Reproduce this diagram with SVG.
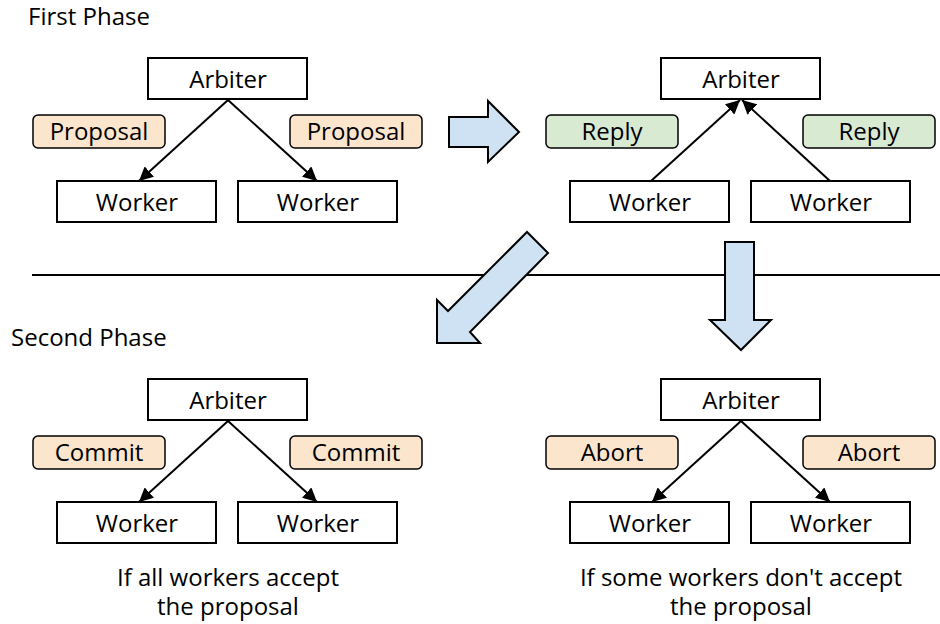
<svg xmlns="http://www.w3.org/2000/svg" width="940" height="624" viewBox="0 0 940 624">
<defs>
<marker id="ah" viewBox="0 0 10 10" refX="10" refY="5" markerWidth="7" markerHeight="7" markerUnits="strokeWidth" orient="auto">
<path d="M0,0 L10,5 L0,10 Z" fill="#000"/>
</marker>
<style>
text{font-family:"Open Sans","Noto Sans",sans-serif;font-size:24px;fill:#000;}
.box{fill:#fff;stroke:#000;stroke-width:2;}
.lab{stroke:#000;stroke-width:1.5;}
.peach{fill:#fce5cd;}
.green{fill:#d9ead3;}
.big{fill:#cfe2f3;stroke:#000;stroke-width:2;stroke-linejoin:miter;}
.c{stroke:#000;stroke-width:2;fill:none;marker-end:url(#ah);}
.m{text-anchor:middle;}
</style>
</defs>
<rect width="940" height="624" fill="#fff"/>
<text x="28" y="25">First Phase</text>
<text x="11" y="346">Second Phase</text>
<line x1="32" y1="275" x2="940" y2="275" stroke="#000" stroke-width="2"/>
<g id="bigarrows">
<path class="big" d="M449,117 L488,117 L488,101 L519,132 L488,162 L488,147 L449,147 Z"/>
<path class="big" d="M725,242 L754,242 L754,320 L771,320 L741,350 L710,320 L725,320 Z"/>
<path class="big" d="M437,343 L437,300 L448,311 L527,232 L548,253 L470,332 L480,343 Z"/>
</g>
<g id="connectors">
<line class="c" x1="228" y1="100" x2="139" y2="181"/>
<line class="c" x1="228" y1="100" x2="317" y2="181"/>
<line class="c" x1="651" y1="181" x2="740" y2="100"/>
<line class="c" x1="830" y1="181" x2="742" y2="100"/>
<line class="c" x1="228" y1="421" x2="139" y2="502"/>
<line class="c" x1="228" y1="421" x2="317" y2="502"/>
<line class="c" x1="741" y1="421" x2="652" y2="502"/>
<line class="c" x1="741" y1="421" x2="830" y2="502"/>
</g>
<g id="arbiter1"><rect class="box" x="148" y="58" width="159" height="41"/><text class="m" x="228" y="88">Arbiter</text></g>
<g id="worker1a"><rect class="box" x="57" y="181" width="159" height="41"/><text class="m" x="137" y="211">Worker</text></g>
<g id="worker1b"><rect class="box" x="238" y="181" width="159" height="41"/><text class="m" x="318" y="211">Worker</text></g>
<g id="proposal1a"><rect class="lab peach" x="33" y="115" width="132" height="33" rx="5"/><text class="m" x="99" y="140">Proposal</text></g>
<g id="proposal1b"><rect class="lab peach" x="290" y="115" width="132" height="33" rx="5"/><text class="m" x="356" y="140">Proposal</text></g>

<g id="arbiter2"><rect class="box" x="661" y="58" width="159" height="41"/><text class="m" x="741" y="88">Arbiter</text></g>
<g id="worker2a"><rect class="box" x="570" y="181" width="159" height="41"/><text class="m" x="650" y="211">Worker</text></g>
<g id="worker2b"><rect class="box" x="751" y="181" width="159" height="41"/><text class="m" x="831" y="211">Worker</text></g>
<g id="reply2a"><rect class="lab green" x="546" y="115" width="132" height="33" rx="5"/><text class="m" x="612" y="140">Reply</text></g>
<g id="reply2b"><rect class="lab green" x="803" y="115" width="132" height="33" rx="5"/><text class="m" x="869" y="140">Reply</text></g>

<g id="arbiter3"><rect class="box" x="148" y="379" width="159" height="41"/><text class="m" x="228" y="409">Arbiter</text></g>
<g id="worker3a"><rect class="box" x="57" y="502" width="159" height="41"/><text class="m" x="137" y="532">Worker</text></g>
<g id="worker3b"><rect class="box" x="238" y="502" width="159" height="41"/><text class="m" x="318" y="532">Worker</text></g>
<g id="commit3a"><rect class="lab peach" x="33" y="436" width="132" height="33" rx="5"/><text class="m" x="99" y="461">Commit</text></g>
<g id="commit3b"><rect class="lab peach" x="290" y="436" width="132" height="33" rx="5"/><text class="m" x="356" y="461">Commit</text></g>
<g id="caption3"><text class="m" x="228" y="586">If all workers accept</text><text class="m" x="228" y="615">the proposal</text></g>

<g id="arbiter4"><rect class="box" x="661" y="379" width="159" height="41"/><text class="m" x="741" y="409">Arbiter</text></g>
<g id="worker4a"><rect class="box" x="570" y="502" width="159" height="41"/><text class="m" x="650" y="532">Worker</text></g>
<g id="worker4b"><rect class="box" x="751" y="502" width="159" height="41"/><text class="m" x="831" y="532">Worker</text></g>
<g id="abort4a"><rect class="lab peach" x="546" y="436" width="132" height="33" rx="5"/><text class="m" x="612" y="461">Abort</text></g>
<g id="abort4b"><rect class="lab peach" x="803" y="436" width="132" height="33" rx="5"/><text class="m" x="869" y="461">Abort</text></g>
<g id="caption4"><text class="m" x="741" y="586">If some workers don't accept</text><text class="m" x="741" y="615">the proposal</text></g>
</svg>
